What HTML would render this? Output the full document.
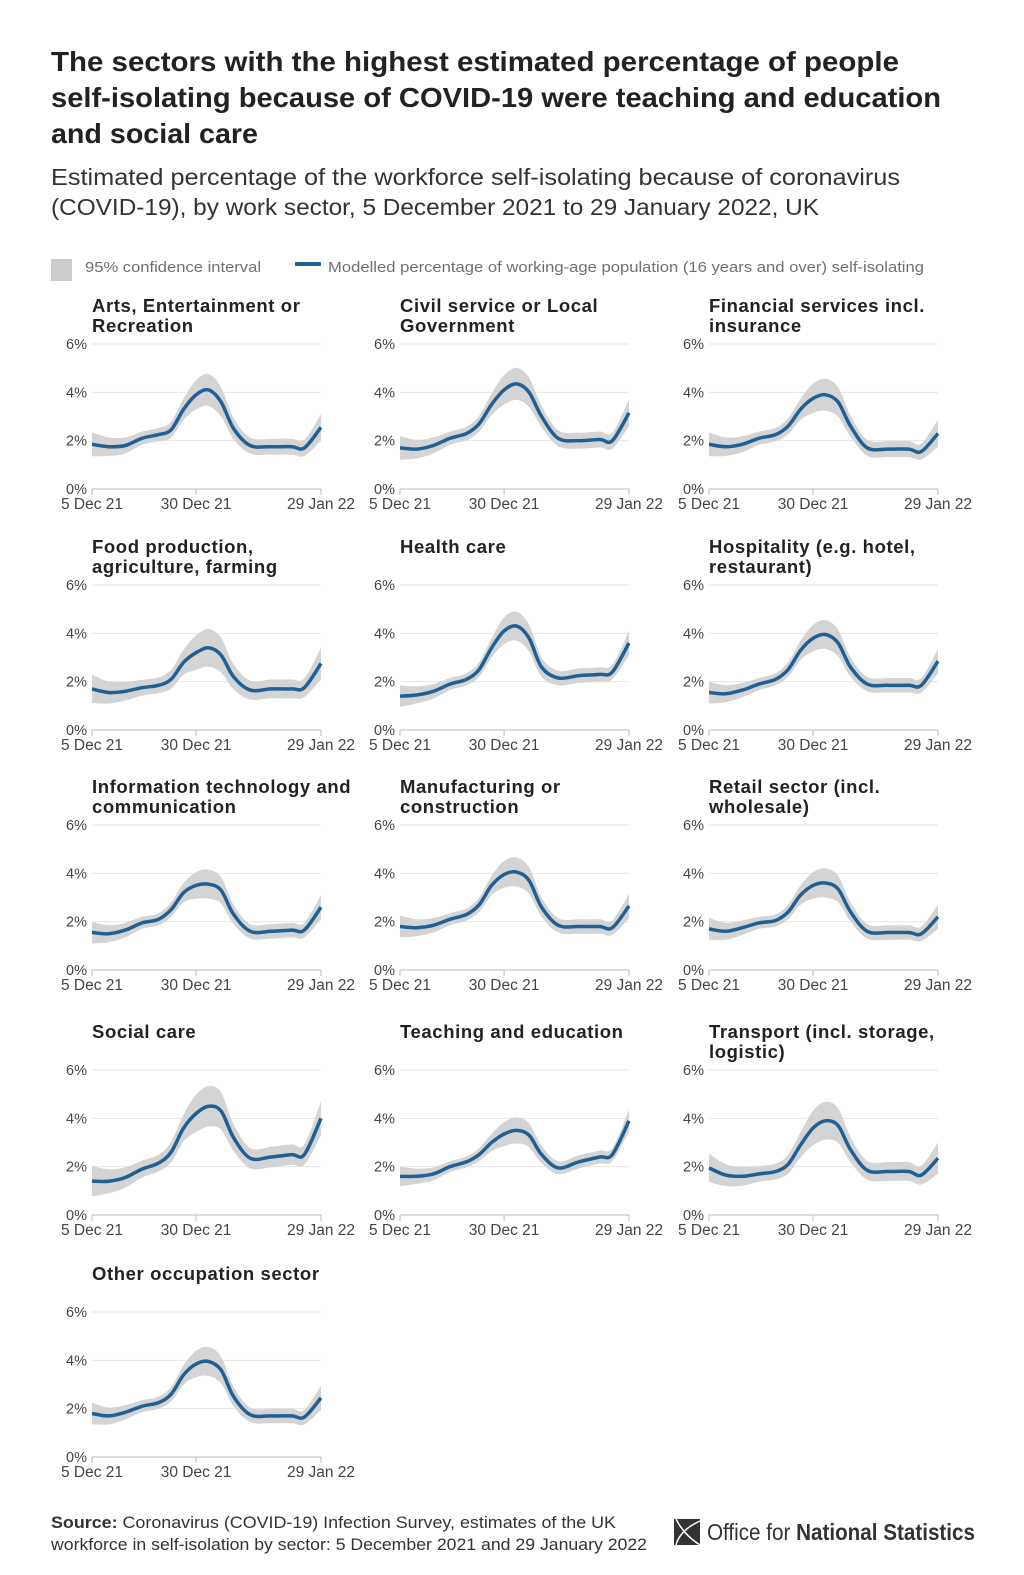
<!DOCTYPE html>
<html><head><meta charset="utf-8">
<style>
html,body{margin:0;padding:0;background:#fff;}
body{width:1024px;height:1570px;overflow:hidden;font-family:"Liberation Sans",sans-serif;}
svg text{font-family:"Liberation Sans",sans-serif;}
</style></head>
<body>
<svg id="chart" width="1024" height="1570" viewBox="0 0 1024 1570">
  <g font-size="28" font-weight="bold" fill="#222">
    <text x="51" y="71" textLength="848" lengthAdjust="spacingAndGlyphs">The sectors with the highest estimated percentage of people</text>
    <text x="51" y="107" textLength="890" lengthAdjust="spacingAndGlyphs">self-isolating because of COVID-19 were teaching and education</text>
    <text x="51" y="143" textLength="207" lengthAdjust="spacingAndGlyphs">and social care</text>
  </g>
  <g font-size="23" fill="#333">
    <text x="51" y="185" textLength="849" lengthAdjust="spacingAndGlyphs">Estimated percentage of the workforce self-isolating because of coronavirus</text>
    <text x="51" y="215" textLength="768" lengthAdjust="spacingAndGlyphs">(COVID-19), by work sector, 5 December 2021 to 29 January 2022, UK</text>
  </g>
  <g>
    <rect x="51" y="259" width="21" height="22" fill="#ccc"/>
    <text x="85" y="272" font-size="15" fill="#707070" textLength="176" lengthAdjust="spacingAndGlyphs">95% confidence interval</text>
    <line x1="295" y1="264" x2="321" y2="264" stroke="#206095" stroke-width="4"/>
    <text x="328" y="272" font-size="15" fill="#707070" textLength="596" lengthAdjust="spacingAndGlyphs">Modelled percentage of working-age population (16 years and over) self-isolating</text>
  </g>
  <g id="panels"></g>
  <g font-size="17" fill="#333">
    <text x="51" y="1528" textLength="565" lengthAdjust="spacingAndGlyphs"><tspan font-weight="bold">Source:</tspan> Coronavirus (COVID-19) Infection Survey, estimates of the UK</text>
    <text x="51" y="1550" textLength="596" lengthAdjust="spacingAndGlyphs">workforce in self-isolation by sector: 5 December 2021 and 29 January 2022</text>
  </g>
  <g>
    <rect x="674" y="1519" width="26" height="26" fill="#333"/>
    <path d="M700 1521 Q680 1530 676 1545 M700 1545 Q684 1535 676 1519" stroke="#fff" stroke-width="1.5" fill="none"/>
    <text x="707" y="1540" font-size="23" fill="#333" textLength="268" lengthAdjust="spacingAndGlyphs">Office for <tspan font-weight="bold">National Statistics</tspan></text>
  </g>
</svg>
<script>
const days = [0,4,8,12,16,19,22,25,28,31,34,38,43,48,51,55];
const ciHalf = [0.45,0.35,0.3,0.25,0.25,0.3,0.4,0.55,0.6,0.55,0.4,0.3,0.3,0.3,0.3,0.5];
const titles = [
 ["Arts, Entertainment or","Recreation"],["Civil service or Local","Government"],["Financial services incl.","insurance"],
 ["Food production,","agriculture, farming"],["Health care"],["Hospitality (e.g. hotel,","restaurant)"],
 ["Information technology and","communication"],["Manufacturing or","construction"],["Retail sector (incl.","wholesale)"],
 ["Social care"],["Teaching and education"],["Transport (incl. storage,","logistic)"],
 ["Other occupation sector"]
];
const s0 = [1.85,1.75,1.8,2.1,2.25,2.45,3.3,3.9,4.1,3.6,2.5,1.8,1.75,1.75,1.7,2.55];
const s1 = [1.7,1.65,1.8,2.1,2.3,2.7,3.5,4.1,4.35,4.0,3.0,2.1,2.0,2.05,2.0,3.15];
const s2 = [1.85,1.75,1.85,2.1,2.25,2.6,3.3,3.75,3.9,3.6,2.6,1.7,1.65,1.65,1.55,2.3];
const s3 = [1.7,1.55,1.6,1.75,1.85,2.1,2.8,3.2,3.4,3.1,2.2,1.65,1.7,1.7,1.75,2.75];
const s4 = [1.4,1.45,1.6,1.9,2.1,2.5,3.4,4.1,4.3,3.8,2.6,2.15,2.25,2.3,2.4,3.6];
const s5 = [1.55,1.5,1.65,1.9,2.1,2.5,3.3,3.8,3.95,3.6,2.6,1.9,1.85,1.85,1.85,2.85];
const s6 = [1.55,1.5,1.65,1.95,2.1,2.5,3.2,3.5,3.55,3.3,2.3,1.6,1.6,1.65,1.65,2.6];
const s7 = [1.8,1.75,1.85,2.1,2.3,2.7,3.5,3.95,4.05,3.7,2.6,1.85,1.8,1.8,1.75,2.65];
const s8 = [1.7,1.6,1.75,1.95,2.05,2.4,3.1,3.5,3.6,3.35,2.4,1.6,1.55,1.55,1.5,2.2];
const s9 = [1.4,1.4,1.55,1.9,2.15,2.6,3.6,4.2,4.5,4.3,3.2,2.35,2.4,2.5,2.5,4.0];
const s10 = [1.6,1.6,1.7,2.0,2.2,2.5,3.0,3.35,3.5,3.3,2.5,1.95,2.2,2.4,2.5,3.9];
const s11 = [1.95,1.65,1.6,1.7,1.8,2.1,2.9,3.6,3.9,3.7,2.7,1.85,1.8,1.8,1.65,2.35];
const s12 = [1.8,1.7,1.85,2.1,2.25,2.6,3.4,3.85,3.95,3.6,2.5,1.75,1.7,1.7,1.65,2.45];
const series = [s0,s1,s2,s3,s4,s5,s6,s7,s8,s9,s10,s11,s12];
const ciScale = [1.1,1.1,1.1,1.3,1,1,1,1,1,1.4,0.9,1.3,1];
const yTicks = [0,2,4,6];
const xTickDays = [0,25,55];
const xTickLabels = ["5 Dec 21","30 Dec 21","29 Jan 22"];

const NS = "http://www.w3.org/2000/svg";
const root = document.getElementById('panels');
const colX = [92,400,709];
const rowBase = [489,730,970,1215,1457];
const W = 229, H = 145;
function mk(tag, attrs, parent){const e=document.createElementNS(NS,tag);for(const k in attrs)e.setAttribute(k,attrs[k]);parent.appendChild(e);return e;}
function smooth(pts){
  let d = "M"+pts[0][0]+" "+pts[0][1];
  for(let i=0;i<pts.length-1;i++){
    const p0=pts[Math.max(0,i-1)],p1=pts[i],p2=pts[i+1],p3=pts[Math.min(pts.length-1,i+2)];
    const c1=[p1[0]+(p2[0]-p0[0])/6,p1[1]+(p2[1]-p0[1])/6];
    const c2=[p2[0]-(p3[0]-p1[0])/6,p2[1]-(p3[1]-p1[1])/6];
    d+=" C"+c1[0].toFixed(1)+" "+c1[1].toFixed(1)+" "+c2[0].toFixed(1)+" "+c2[1].toFixed(1)+" "+p2[0].toFixed(1)+" "+p2[1].toFixed(1);
  }
  return d;
}
series.forEach((vals, i) => {
  const x0 = colX[i%3], base = rowBase[Math.floor(i/3)];
  const xs = d => x0 + d/55*W;
  const ys = v => base - v/6*H;
  const g = mk('g',{},root);
  
  
  const lines = titles[i];
  const tt = mk('text',{x:x0,'font-size':18.5,'font-weight':'bold',fill:'#222','letter-spacing':'0.6'},g);
  
  
  lines.forEach((l,k)=>{const ts=mk('tspan',{x:x0,y:(base-H-32+k*20)},tt);ts.textContent=l;});
  yTicks.forEach(t=>{
    const ln = mk('line',{x1:x0,x2:x0+W,y1:ys(t),y2:ys(t),stroke:t===0?'#bbb':'#e6e6e6','stroke-width':1},g);
    
    
    const tx = mk('text',{x:x0-5,y:ys(t)+5,'font-size':14.5,fill:'#444','text-anchor':'end'},g);
    
    
    tx.textContent = t+'%';
  });
  xTickDays.forEach((d,k)=>{
    const tk = mk('line',{x1:xs(d),x2:xs(d),y1:base,y2:base+6,stroke:'#bbb'},g);
    
    
    const tx = mk('text',{x:xs(d),y:base+20,'font-size':15.5,fill:'#444','text-anchor':'middle'},g);
    
    
    tx.textContent = xTickLabels[k];
  });
  const up = days.map((d,k)=>[xs(d),ys(vals[k]+ciHalf[k]*ciScale[i])]);
  const lo = days.map((d,k)=>[xs(d),ys(vals[k]-ciHalf[k]*ciScale[i])]).reverse();
  const loPath = smooth(lo).replace(/^M/,'L');
  const band = mk('path',{d:smooth(up)+' '+loPath+' Z',fill:'#d4d4d4'},g);
  
  
  const line = mk('path',{d:smooth(days.map((d,k)=>[xs(d),ys(vals[k])])),fill:'none',stroke:'#206095','stroke-width':3.5,'stroke-linejoin':'round'},g);
  
  
});
</script>
</body></html>
